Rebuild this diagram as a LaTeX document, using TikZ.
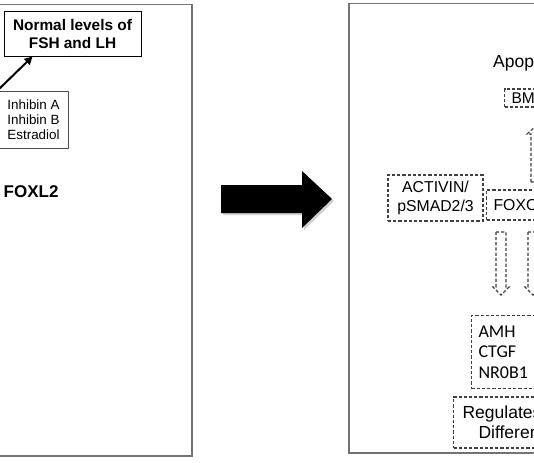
\documentclass[tikz,border=0pt]{standalone}
\usepackage{fontspec}
\setmainfont{Liberation Sans}
\newfontfamily\calib{Carlito}
\usetikzlibrary{arrows.meta}
\tikzset{
  panel/.style={draw=black!55, line width=1.6pt},
  solidbox/.style={draw=black, line width=0.9pt, inner sep=0pt},
  thinbox/.style={draw=black!70, line width=0.8pt, inner sep=0pt},
  dbox/.style={draw=black!75, line width=1.1pt, dash pattern=on 3.2pt off 2pt, inner ysep=0pt},
  darrow/.style={draw=black!75, line width=1.1pt, dash pattern=on 3.2pt off 2pt},
  boldarrow/.style={line width=2pt, -{Triangle[length=8pt,width=8pt]}},
}
\begin{document}
\begin{tikzpicture}[x=1pt,y=-1pt]
\useasboundingbox (0,0) rectangle (534,462);
\clip (0,0) rectangle (534,462);
\fill[white] (0,0) rectangle (534,462);

% panels
\draw[panel] (-10,4.5) rectangle (192,456);
\draw[panel] (349,3.5) rectangle (560,453);

% left panel
\node[solidbox, minimum width=137, minimum height=45, align=center,
      font=\bfseries\fontsize{15.4}{18}\selectfont] (fsh) at (72.5,33.5)
      {Normal levels of\\FSH and LH};
\node[thinbox, minimum width=69, minimum height=57, align=left,
      font=\fontsize{13.4}{15}\selectfont] (inh) at (33.5,119.5)
      {Inhibin A\\Inhibin B\\Estradiol};
\coordinate (a0) at (-3,91);
\draw[boldarrow] (a0) -- ([xshift=29pt]fsh.south west);
\node[anchor=west, inner sep=0pt, font=\bfseries\fontsize{17}{20}\selectfont] (foxl2) at (3.5,192) {FOXL2};

% big arrow
\fill[black!30, opacity=0.6] (223,187) -- (304,187) -- (304,173) -- (334,201) -- (304,230) -- (304,215) -- (223,215) -- cycle;
\fill[black] (221,185) -- (302,185) -- (302,171) -- (332,199) -- (302,228) -- (302,213) -- (221,213) -- cycle;

% right panel
\node[anchor=west, inner sep=0pt, font=\fontsize{17.5}{20}\selectfont] (apop) at (493,63) {Apoptosis};
\node[dbox, anchor=west, minimum height=18, inner xsep=7pt, font=\fontsize{15.5}{18}\selectfont] (bmp) at (504,98) {BMP2};
\node[dbox, minimum width=95, minimum height=46, align=center,
      font=\fontsize{15.8}{19}\selectfont] (act) at (435.5,198) {ACTIVIN/\\pSMAD2/3};
\node[dbox, anchor=west, minimum height=30, inner xsep=7pt, font=\fontsize{15.8}{19}\selectfont] (foxo) at (486,205) {FOXO1};

% dashed block arrows
\draw[darrow] (531,182) -- (531,134) -- (527,134) -- (536,126) -- (545,134) -- (541,134) -- (541,182) -- cycle;
\draw[darrow] (496,232) -- (506,232) -- (506,287) -- (509,287) -- (501,295) -- (493,287) -- (496,287) -- cycle;
\draw[darrow] (528,232) -- (538,232) -- (538,287) -- (541,287) -- (533,295) -- (525,287) -- (528,287) -- cycle;

\node[dbox, anchor=north west, minimum height=73, text width=70pt, inner xsep=7pt, align=left,
      font=\calib\fontsize{18}{20.5}\selectfont] (genes) at (471,315) {AMH\\CTGF\\NR0B1};
\node[dbox, anchor=west, minimum height=51, text width=140pt, inner xsep=9pt, align=left,
      font=\fontsize{17.5}{20}\selectfont] (reg) at (453,422.5)
      {Regulates Cell\\\hspace*{16pt}Differentiation};
\end{tikzpicture}
\end{document}
